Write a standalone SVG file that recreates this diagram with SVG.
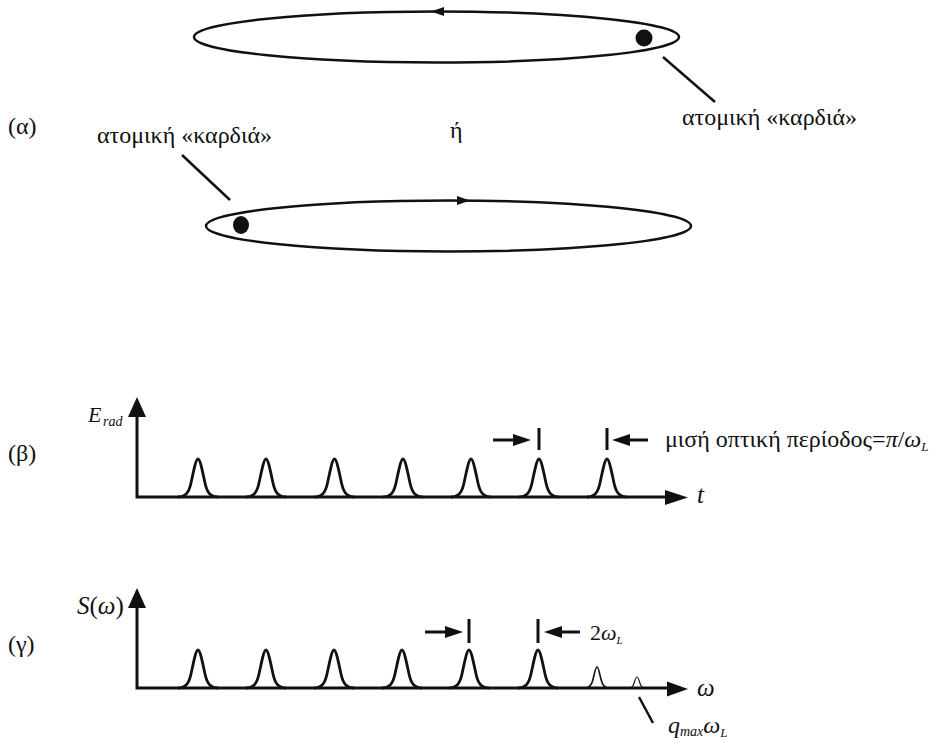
<svg xmlns="http://www.w3.org/2000/svg" width="935" height="751" viewBox="0 0 935 751">
<style>
  text { font-family: "Liberation Serif", serif; fill: #111; }
  .lbl { font-size: 24px; }
  .it { font-style: italic; }
  .orbit { fill: none; stroke: #111; stroke-width: 2.5; }
  .ln { fill: none; stroke: #111; stroke-width: 2.5; }
  .ax { fill: none; stroke: #111; stroke-width: 3; }
  .pk { fill: none; stroke: #111; stroke-width: 2.8; stroke-linejoin: round; }
  .fill { fill: #111; stroke: none; }
</style>
<defs>
  <path id="peak" d="M-20,0 C-12,0 -9,-5 -7,-14 C-4.8,-24 -2.2,-38 0,-38 C2.2,-38 4.8,-24 7,-14 C9,-5 12,0 20,0"/>
</defs>

<!-- (α) panel -->
<g id="label-a"><text class="lbl" x="8" y="134">(α)</text></g>
<g id="orbit-top">
  <ellipse class="orbit" cx="436.5" cy="37" rx="242.5" ry="25.5"/>
  <polygon class="fill" points="431,11.5 444,7 444,16"/>
  <circle class="fill" cx="644" cy="38" r="8.5"/>
</g>
<g id="orbit-bottom">
  <ellipse class="orbit" cx="448.5" cy="226" rx="242.5" ry="25.5"/>
  <polygon class="fill" points="470,200.5 457,196 457,205"/>
  <ellipse class="fill" cx="241" cy="225" rx="8" ry="9"/>
</g>
<g id="label-heart-right"><text class="lbl" x="682" y="125">ατομική «καρδιά»</text></g>
<g id="label-heart-left"><text class="lbl" x="97" y="143">ατομική «καρδιά»</text></g>
<g id="label-or"><text class="lbl" x="450" y="138">ή</text></g>

<!-- (β) panel -->
<g id="label-b"><text class="lbl" x="8" y="461">(β)</text></g>
<g id="axes-b">
  <path class="ax" d="M137,412 V497 H668"/>
  <polygon class="fill" points="137,397 128,417 146,417"/>
  <polygon class="fill" points="688,497.5 665,490 665,505"/>
  <text class="it" x="88" y="422" font-size="22">E</text>
  <text class="it" x="103" y="426" font-size="14">rad</text>
  <text class="it" x="697" y="503" font-size="25">t</text>
</g>
<g id="peaks-b">
  <use href="#peak" class="pk" transform="translate(198,497)"/>
  <use href="#peak" class="pk" transform="translate(266,497)"/>
  <use href="#peak" class="pk" transform="translate(334.5,497)"/>
  <use href="#peak" class="pk" transform="translate(403,497)"/>
  <use href="#peak" class="pk" transform="translate(471,497)"/>
  <use href="#peak" class="pk" transform="translate(539,497)"/>
  <use href="#peak" class="pk" transform="translate(607,497)"/>
</g>
<g id="period-marker">
  <path class="ax" d="M539,428 V450 M607,428 V450 M493,440 H516 M648,440 H628"/>
  <polygon class="fill" points="531,440 513,434 513,446"/>
  <polygon class="fill" points="612,440 630,434 630,446"/>
  <text class="lbl" x="665" y="447">μισή οπτική περίοδος=<tspan class="it">π</tspan>/<tspan class="it">ω</tspan><tspan class="it" font-size="13" dy="4">L</tspan></text>
</g>

<!-- (γ) panel -->
<g id="label-g"><text class="lbl" x="8" y="652">(γ)</text></g>
<g id="axes-g">
  <path class="ax" d="M137,603 V688 H668"/>
  <polygon class="fill" points="137,588 128,608 146,608"/>
  <polygon class="fill" points="688,689 667,681.5 667,696.5"/>
  <text x="77" y="614" font-size="25"><tspan class="it">S</tspan>(<tspan class="it">ω</tspan>)</text>
  <text class="it" x="697" y="696" font-size="25">ω</text>
</g>
<g id="peaks-g">
  <use href="#peak" class="pk" transform="translate(198,688)"/>
  <use href="#peak" class="pk" transform="translate(266,688)"/>
  <use href="#peak" class="pk" transform="translate(334,688)"/>
  <use href="#peak" class="pk" transform="translate(402,688)"/>
  <use href="#peak" class="pk" transform="translate(469,688)"/>
  <use href="#peak" class="pk" transform="translate(538,688)"/>
  <use href="#peak" class="pk" transform="translate(597,688) scale(0.6,0.56)"/>
  <use href="#peak" class="pk" transform="translate(637,688) scale(0.45,0.3)"/>
</g>
<g id="freq-marker">
  <path class="ax" d="M469,619 V643 M538,619 V643 M425,632 H448 M580,632 H560"/>
  <polygon class="fill" points="463,632 445,626 445,638"/>
  <polygon class="fill" points="544,632 562,626 562,638"/>
  <text x="590" y="640" font-size="22">2<tspan class="it">ω</tspan><tspan class="it" font-size="11" dy="4">L</tspan></text>
</g>
<g id="qmax-label">
  <text class="it" x="668" y="733" font-size="24">q<tspan font-size="14" dy="3">max</tspan><tspan dy="-3">ω</tspan><tspan font-size="13" dy="4">L</tspan></text>
</g>

<!-- connectors -->
<g id="connectors">
  <line class="ln" x1="663" y1="57" x2="715" y2="102"/>
  <line class="ln" x1="182" y1="155" x2="230" y2="200"/>
  <line class="ln" x1="639" y1="697" x2="653" y2="723"/>
</g>
</svg>
